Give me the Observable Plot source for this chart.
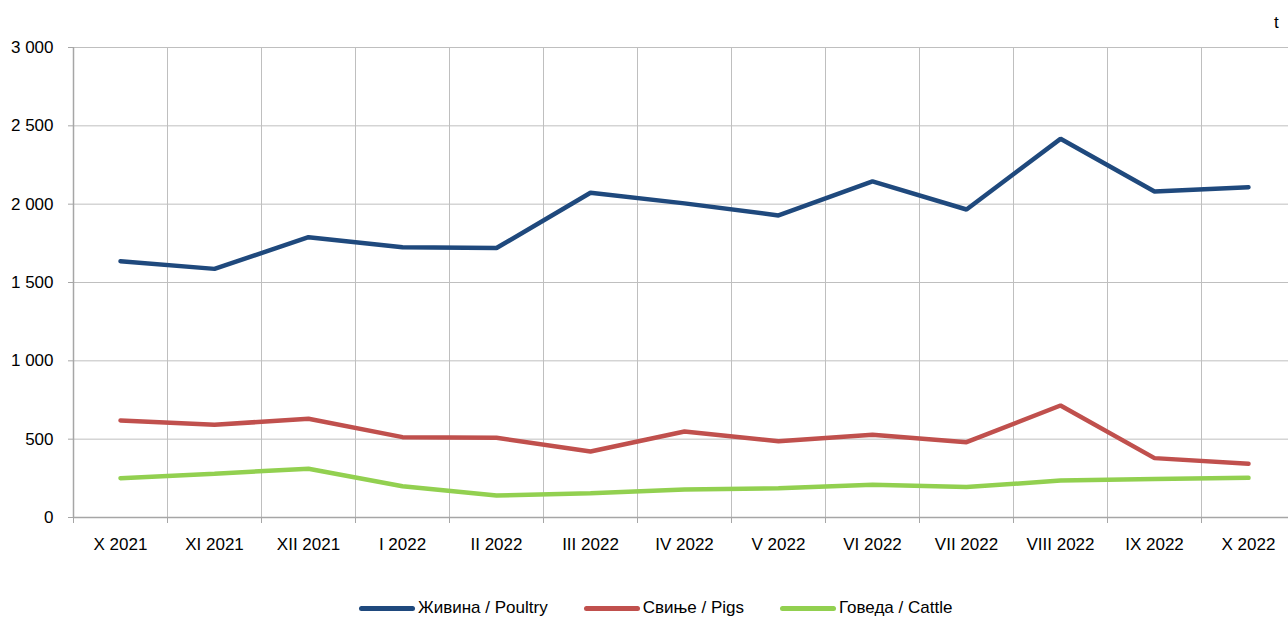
<!DOCTYPE html>
<html><head><meta charset="utf-8">
<script src="https://cdn.jsdelivr.net/npm/d3@7"></script>
<script src="https://cdn.jsdelivr.net/npm/@observablehq/plot@0.6"></script>
<style>
html,body{margin:0;padding:0;background:#fff;overflow:hidden;}
body{font-family:"Liberation Sans",Arial,sans-serif;}
#wrap{position:relative;width:1288px;height:619px;overflow:hidden;}
#chart svg{overflow:hidden;}
#unit{position:absolute;left:1274px;top:13px;font-size:17px;color:#000;}
#legend{position:absolute;top:598px;left:359px;display:flex;align-items:center;font-size:17px;color:#000;white-space:nowrap;}
.item{display:flex;align-items:center;margin-right:36px;}
.sw{width:56px;height:5px;border-radius:3px;margin-right:3px;}
</style>
</head><body>
<div id="wrap"><div id="chart"></div><div id="unit">t</div><div id="legend"></div></div>
<script>
const months = ["X 2021","XI 2021","XII 2021","I 2022","II 2022","III 2022","IV 2022","V 2022","VI 2022","VII 2022","VIII 2022","IX 2022","X 2022"];
const seriesNames = ["Живина / Poultry","Свиње / Pigs","Говеда / Cattle"];
const seriesColors = ["#1f497d","#c0504d","#92d050"];
const poultry = [1636,1587,1789,1725,1720,2073,2005,1928,2145,1966,2417,2081,2108];
const pigs    = [619,592,630,513,509,421,549,487,528,481,715,379,343];
const cattle  = [251,280,311,200,140,155,179,187,209,194,236,245,253];
const yTicks = [0,500,1000,1500,2000,2500,3000];

const allSeries = [poultry, pigs, cattle];
const rows = [];
allSeries.forEach((vals, s) => vals.forEach((v, i) => rows.push({i, value: v, series: seriesNames[s]})));
const idx = d3.range(months.length);
const bounds = d3.range(months.length + 1).map(k => k - 0.5);
const fmt = v => d3.format(",")(v).replace(/,/g, " ");
const grid = "#bfbfbf", axisC = "#a6a6a6";

const chart = Plot.plot({
  width: 1288, height: 570,
  marginTop: 47, marginBottom: 53, marginLeft: 73, marginRight: 0,
  style: {fontFamily: '"Liberation Sans", Arial, sans-serif', fontSize: "17px", color: "#000", background: "#fff"},
  x: {type: "linear", domain: [-0.5, months.length - 0.5], range: [73, 1295]},
  y: {domain: [0, 3000], range: [517, 47]},
  color: {domain: seriesNames, range: seriesColors},
  marks: [
    Plot.gridY(yTicks, {stroke: grid, strokeOpacity: 1, strokeWidth: 1}),
    Plot.ruleX(bounds.slice(1), {stroke: grid, strokeWidth: 1}),
    Plot.ruleX([bounds[0]], {stroke: axisC, strokeWidth: 1.5}),
    Plot.ruleY([0], {stroke: axisC, strokeWidth: 1.5}),
    Plot.axisY(yTicks, {tickSize: 5, tickPadding: 15, tickFormat: fmt, stroke: axisC, fill: "#000", label: null}),
    Plot.axisX(bounds, {tickSize: 6, tickFormat: () => "", stroke: axisC, label: null}),
    Plot.axisX(idx, {tickSize: 0, tickPadding: 20, tickFormat: i => months[i], fill: "#000", label: null}),
    Plot.line(rows, {x: "i", y: "value", z: "series", stroke: "series", strokeWidth: 4.5, strokeLinecap: "round", strokeLinejoin: "miter"})
  ]
});
document.getElementById("chart").appendChild(chart);

const legend = document.getElementById("legend");
seriesNames.forEach((n, k) => {
  const it = document.createElement("div"); it.className = "item";
  const sw = document.createElement("span"); sw.className = "sw"; sw.style.background = seriesColors[k];
  const tx = document.createElement("span"); tx.textContent = n;
  it.appendChild(sw); it.appendChild(tx); legend.appendChild(it);
});
</script>
</body></html>
